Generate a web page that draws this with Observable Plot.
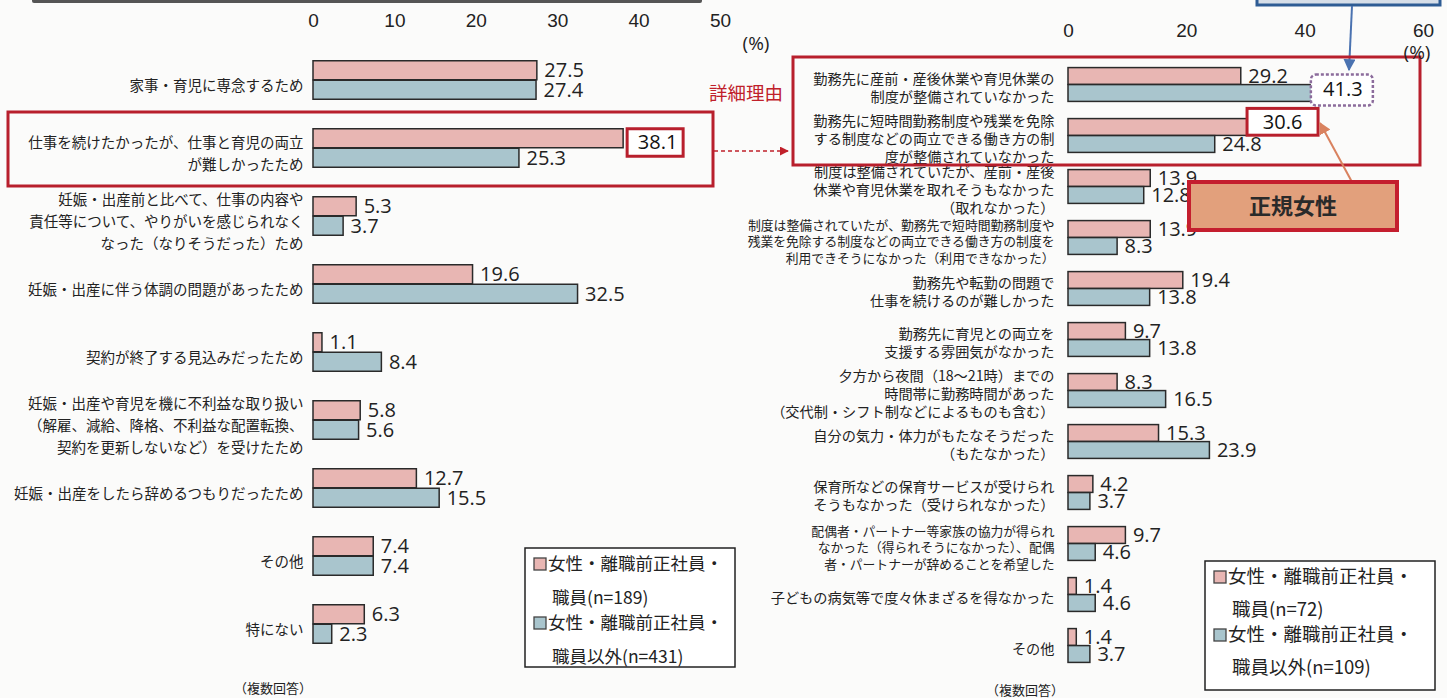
<!DOCTYPE html>
<html><head><meta charset="utf-8">
<script src="https://cdn.jsdelivr.net/npm/d3@7"></script>
<script src="https://cdn.jsdelivr.net/npm/@observablehq/plot@0.6"></script>
<style>
body{margin:0;background:#fbfbfa;}
#wrap{position:relative;width:1447px;height:698px;overflow:hidden;background:#fbfbfa;}
#left,#right{position:absolute;top:0;}
#left{left:0px}
#right{left:730px}
svg{overflow:visible}
#overlay{position:absolute;left:0;top:0;pointer-events:none}
</style></head>
<body>
<div id="wrap"><div id="left"></div><div id="right"></div><svg id="overlay" width="1447" height="698"></svg></div>
<script>
// ---------- data ----------
const leftCategories = [
  "家事・育児に専念するため",
  "仕事を続けたかったが、仕事と育児の両立\nが難しかったため",
  "妊娠・出産前と比べて、仕事の内容や\n責任等について、やりがいを感じられなく\nなった（なりそうだった）ため",
  "妊娠・出産に伴う体調の問題があったため",
  "契約が終了する見込みだったため",
  "妊娠・出産や育児を機に不利益な取り扱い\n（解雇、減給、降格、不利益な配置転換、\n契約を更新しないなど）を受けたため",
  "妊娠・出産をしたら辞めるつもりだったため",
  "その他",
  "特にない"
];
const leftRegular    = [27.5, 38.1, 5.3, 19.6, 1.1, 5.8, 12.7, 7.4, 6.3];
const leftNonRegular = [27.4, 25.3, 3.7, 32.5, 8.4, 5.6, 15.5, 7.4, 2.3];
const leftTicks = [0, 10, 20, 30, 40, 50];
const leftLegend = ["女性・離職前正社員・", "職員(n=189)", "女性・離職前正社員・", "職員以外(n=431)"];

const rightCategories = [
  "勤務先に産前・産後休業や育児休業の\n制度が整備されていなかった",
  "勤務先に短時間勤務制度や残業を免除\nする制度などの両立できる働き方の制\n度が整備されていなかった",
  "制度は整備されていたが、産前・産後\n休業や育児休業を取れそうもなかった\n（取れなかった）",
  "制度は整備されていたが、勤務先で短時間勤務制度や\n残業を免除する制度などの両立できる働き方の制度を\n利用できそうになかった（利用できなかった）",
  "勤務先や転勤の問題で\n仕事を続けるのが難しかった",
  "勤務先に育児との両立を\n支援する雰囲気がなかった",
  "夕方から夜間（18～21時）までの\n時間帯に勤務時間があった\n（交代制・シフト制などによるものも含む）",
  "自分の気力・体力がもたなそうだった\n（もたなかった）",
  "保育所などの保育サービスが受けられ\nそうもなかった（受けられなかった）",
  "配偶者・パートナー等家族の協力が得られ\nなかった（得られそうになかった）、配偶\n者・パートナーが辞めることを希望した",
  "子どもの病気等で度々休まざるを得なかった",
  "その他"
];
const rightRegular    = [29.2, 30.6, 13.9, 13.9, 19.4, 9.7, 8.3, 15.3, 4.2, 9.7, 1.4, 1.4];
const rightNonRegular = [41.3, 24.8, 12.8, 8.3, 13.8, 13.8, 16.5, 23.9, 3.7, 4.6, 4.6, 3.7];
const rightSmallLabels = [rightCategories[3], rightCategories[9]];
const rightTicks = [0, 20, 40, 60];
const rightLegend = ["女性・離職前正社員・", "職員(n=72)", "女性・離職前正社員・", "職員以外(n=109)"];

// ---------- styles ----------
const JP = '"Noto Sans CJK JP", "Noto Sans", sans-serif';
const NUM = '"Open Sans", "Liberation Sans", sans-serif';
const TICK = '"Liberation Sans Narrow", "Liberation Sans", sans-serif';
const pink = "#e8b6b3", blue = "#a9c5cd", edge = "#2a2a2a", red = "#b81f2c";
const NS = 20;

function rows(cats, reg, non) {
  return cats.map((c, i) => ({cat: c, reg: reg[i], non: non[i]}));
}

// ---------- left chart ----------
const L = rows(leftCategories, leftRegular, leftNonRegular);
const lStep = 68.5, lHalf = lStep / 2, lBar = 19.5;
const lHi = L.filter(d => d.reg === 38.1);
const plotL = Plot.plot({
  width: 730, height: 698,
  marginLeft: 313, marginRight: 10, marginTop: 30, marginBottom: 0,
  style: {fontFamily: TICK, fontSize: "19px", background: "transparent", color: "#222"},
  x: {domain: [0, 50], axis: "top", ticks: leftTicks, tickSize: 0, tickPadding: 4, label: null},
  y: {domain: leftCategories, range: [78 - lHalf, 626 + lHalf], padding: 0, axis: null},
  marks: [
    Plot.barX(L, {x: "reg", y: "cat", fill: pink, stroke: edge, strokeWidth: 1.5, insetTop: lHalf - lBar, insetBottom: lHalf}),
    Plot.barX(L, {x: "non", y: "cat", fill: blue, stroke: edge, strokeWidth: 1.5, insetTop: lHalf, insetBottom: lHalf - lBar}),
    Plot.text(L.filter(d => d.reg !== 38.1), {x: "reg", y: "cat", text: d => d.reg.toFixed(1), dx: 7, dy: -lBar / 2, textAnchor: "start", fontFamily: NUM, fontSize: NS, fill: "#222"}),
    Plot.text(L, {x: "non", y: "cat", text: d => d.non.toFixed(1), dx: 7, dy: lBar / 2, textAnchor: "start", fontFamily: NUM, fontSize: NS, fill: "#222"}),
    Plot.barX(lHi, {x1: "reg", x2: "reg", y: "cat", fill: "white", stroke: red, strokeWidth: 3, insetLeft: 4, insetRight: -60, insetTop: 14.75, insetBottom: 25.75}),
    Plot.text(lHi, {x: "reg", y: "cat", text: d => d.reg.toFixed(1), dx: 34, dy: -5.5, fontFamily: NUM, fontSize: NS, fill: "#111"}),
    Plot.text(L, {y: "cat", text: "cat", frameAnchor: "left", textAnchor: "end", dx: -10, dy: 3, lineHeight: 1.52, fontSize: 14.5, fontFamily: JP, fill: "#222"})
  ]
});
document.getElementById("left").append(plotL);

// ---------- right chart ----------
const R = rows(rightCategories, rightRegular, rightNonRegular);
const rStep = (646 - 83) / 11, rHalf = rStep / 2, rBar = 17;
const rHiA = R.filter(d => d.non === 41.3);
const rHiB = R.filter(d => d.reg === 30.6);
const plotR = Plot.plot({
  width: 717, height: 698,
  marginLeft: 338, marginRight: 24, marginTop: 40, marginBottom: 0,
  style: {fontFamily: TICK, fontSize: "19px", background: "transparent", color: "#222"},
  x: {domain: [0, 60], axis: "top", ticks: rightTicks, tickSize: 0, tickPadding: 4, label: null},
  y: {domain: rightCategories, range: [83 - rHalf, 646 + rHalf], padding: 0, axis: null},
  marks: [
    Plot.barX(R, {x: "reg", y: "cat", fill: pink, stroke: edge, strokeWidth: 1.5, insetTop: rHalf - rBar, insetBottom: rHalf}),
    Plot.barX(R, {x: "non", y: "cat", fill: blue, stroke: edge, strokeWidth: 1.5, insetTop: rHalf, insetBottom: rHalf - rBar}),
    Plot.text(R.filter(d => d.reg !== 30.6), {x: "reg", y: "cat", text: d => d.reg.toFixed(1), dx: 7, dy: -rBar / 2, textAnchor: "start", fontFamily: NUM, fontSize: NS, fill: "#222"}),
    Plot.text(R.filter(d => d.non !== 41.3), {x: "non", y: "cat", text: d => d.non.toFixed(1), dx: 7, dy: rBar / 2, textAnchor: "start", fontFamily: NUM, fontSize: NS, fill: "#222"}),
    Plot.barX(rHiA, {x1: "non", x2: "non", y: "cat", fill: "white", stroke: "#8c6c9c", strokeWidth: 2.5, strokeDasharray: "3,2", rx: 5, insetLeft: -1.5, insetRight: -60.5, insetTop: 15.6, insetBottom: 4.6}),
    Plot.text(rHiA, {x: "non", y: "cat", text: d => d.non.toFixed(1), dx: 30, dy: 5, fontFamily: NUM, fontSize: NS, fill: "#111"}),
    Plot.barX(rHiB, {x1: "reg", x2: "reg", y: "cat", fill: "white", stroke: red, strokeWidth: 3, insetLeft: -2, insetRight: -69, insetTop: -1.6, insetBottom: 25.8}),
    Plot.text(rHiB, {x: "reg", y: "cat", text: d => d.reg.toFixed(1), dx: 33, dy: -13.5, fontFamily: NUM, fontSize: NS, fill: "#111"}),
    Plot.text(R.filter(d => !rightSmallLabels.includes(d.cat)), {y: "cat", text: "cat", frameAnchor: "left", textAnchor: "end", dx: -14, dy: 2, lineHeight: 1.27, fontSize: 14.2, fontFamily: JP, fill: "#222"}),
    Plot.text(R.filter(d => rightSmallLabels.includes(d.cat)), {y: "cat", text: "cat", frameAnchor: "left", textAnchor: "end", dx: -14, dy: 3, lineHeight: 1.3, fontSize: 12.8, fontFamily: JP, fill: "#222"})
  ]
});
document.getElementById("right").append(plotR);

// ---------- overlay annotations ----------
const ov = d3.select("#overlay");
const defs = ov.append("defs");
function marker(id, color) {
  defs.append("marker").attr("id", id).attr("viewBox", "0 0 10 10").attr("refX", 9).attr("refY", 5)
    .attr("markerWidth", 6).attr("markerHeight", 6).attr("orient", "auto")
    .append("path").attr("d", "M0,0L10,5L0,10z").attr("fill", color);
}
marker("aRed", "#c0202a"); marker("aBlue", "#4a72b0"); marker("aOr", "#d9825f");

ov.append("rect").attr("x", 32).attr("y", -6).attr("width", 670).attr("height", 9).attr("fill", "#555").attr("rx", 2);
ov.append("rect").attr("x", 1257).attr("y", -12).attr("width", 183).attr("height", 17).attr("fill", "#d6dee8").attr("stroke", "#2e5c94").attr("stroke-width", 3);
ov.append("line").attr("x1", 1352).attr("y1", 6).attr("x2", 1349).attr("y2", 70).attr("stroke", "#4a72b0").attr("stroke-width", 2).attr("marker-end", "url(#aBlue)");

ov.append("rect").attr("x", 8).attr("y", 112).attr("width", 705).attr("height", 74).attr("fill", "none").attr("stroke", red).attr("stroke-width", 3);
ov.append("rect").attr("x", 793).attr("y", 57).attr("width", 627).attr("height", 108).attr("fill", "none").attr("stroke", red).attr("stroke-width", 3);
ov.append("text").attr("x", 709).attr("y", 100).attr("font-family", JP).attr("font-size", 18.5).attr("fill", "#c0202a").text("詳細理由");
ov.append("line").attr("x1", 714).attr("y1", 151).attr("x2", 788).attr("y2", 151).attr("stroke", "#c0202a").attr("stroke-width", 1.5).attr("stroke-dasharray", "4,3").attr("marker-end", "url(#aRed)");
ov.append("line").attr("x1", 1352).attr("y1", 182).attr("x2", 1320).attr("y2", 123).attr("stroke", "#d9825f").attr("stroke-width", 2).attr("marker-end", "url(#aOr)");
ov.append("rect").attr("x", 1189).attr("y", 182).attr("width", 208).attr("height", 48).attr("fill", "#e2a07c").attr("stroke", "#c41e2e").attr("stroke-width", 4);
ov.append("text").attr("x", 1293).attr("y", 214).attr("text-anchor", "middle").attr("font-family", JP).attr("font-weight", "bold").attr("font-size", 22).attr("fill", "#2a2a2a").text("正規女性");

ov.append("text").attr("x", 756).attr("y", 50).attr("text-anchor", "middle").attr("font-family", NUM).attr("font-size", 19).attr("fill", "#222").text("(%)");
ov.append("text").attr("x", 1417).attr("y", 59).attr("text-anchor", "middle").attr("font-family", NUM).attr("font-size", 19).attr("fill", "#222").text("(%)");
ov.append("text").attr("x", 273).attr("y", 693).attr("text-anchor", "middle").attr("font-family", JP).attr("font-size", 13).attr("fill", "#222").text("（複数回答）");
ov.append("text").attr("x", 1025).attr("y", 695).attr("text-anchor", "middle").attr("font-family", JP).attr("font-size", 13).attr("fill", "#222").text("（複数回答）");

function legend(x, y, w, h, labels, gap, fs) {
  const g = ov.append("g");
  g.append("rect").attr("x", x).attr("y", y).attr("width", w).attr("height", h).attr("fill", "white").attr("stroke", "#222").attr("stroke-width", 1.5);
  const rowsY = [y + 22, y + 22 + gap, y + 22 + gap + 25, y + 22 + 2 * gap + 25];
  [[pink, 0], [blue, 2]].forEach(([c, i]) => {
    g.append("rect").attr("x", x + 9).attr("y", rowsY[i] - 12).attr("width", 12).attr("height", 12).attr("fill", c).attr("stroke", "#444").attr("stroke-width", 1.3);
  });
  labels.forEach((t, i) => {
    g.append("text").attr("x", x + (i % 2 === 0 ? 23 : 27)).attr("y", rowsY[i]).attr("font-family", JP).attr("font-size", fs).attr("fill", "#222").text(t);
  });
}
legend(525, 548, 210, 119, leftLegend, 34, 17.5);
legend(1205, 561, 230, 129, rightLegend, 33, 18.5);
</script>
</body></html>
